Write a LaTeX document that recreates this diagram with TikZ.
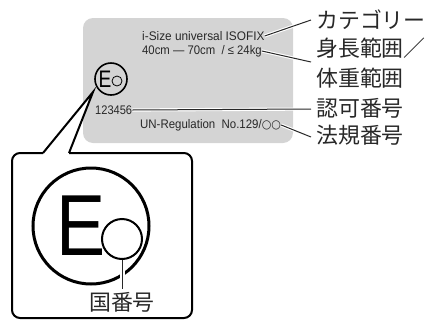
\documentclass[tikz,border=0pt]{standalone}
\usepackage{fontspec}
\setmainfont{Liberation Sans}
\newfontfamily\cjk{Noto Sans CJK JP}
\newfontfamily\dvs{DejaVu Sans}
\definecolor{labelgray}{RGB}{212,212,212}
\definecolor{ink}{RGB}{40,40,40}
\tikzset{
  lat/.style={inner sep=0pt, text=ink, anchor=west, font=\fontsize{12.5}{12.5}\selectfont},
  jp/.style={inner sep=0pt, text=ink, anchor=west, align=left, font=\cjk\fontsize{22}{30}\selectfont},
  leader/.style={draw=ink, line width=1bp, preaction={draw=white, line width=3.2bp}},
  bold/.style={draw=black, line width=2bp},
}
\begin{document}
\begin{tikzpicture}[x=1bp,y=-1bp]
\useasboundingbox (0,0) rectangle (428,320);
% label plate
\fill[labelgray, rounded corners=10bp] (83,18) rectangle (293,143);
\node[lat, xscale=0.95] (cat) at (142,36) {i-Size universal ISOFIX};
\node[lat, xscale=0.91] (size) at (142,51) {40cm — 70cm \ / ≤ 24kg};
\node[lat, xscale=0.89] (num) at (95,110) {123456};
\node[lat, xscale=0.92] (reg) at (140,125) {UN-Regulation\ \ No.129/{\dvs\fontsize{12}{12}\selectfont ○○}};
% small E mark
\node[circle, draw=black, line width=1.6bp, minimum size=32bp, inner sep=0pt] (smark) at (111,79) {};
\node[inner sep=0pt, xscale=0.8, font=\fontsize{24}{24}\selectfont] (sE) at (105,79) {E};
\node[circle, draw=black, line width=0.8bp, minimum size=10bp, inner sep=0pt] (so) at (117,81) {};
% right labels
\node[jp] (jcat) at (316,20) {カテゴリー};
\node[jp] (jsize) at (316,63) {身長範囲／\\体重範囲};
\node[jp] (jnum) at (316,108) {認可番号};
\node[jp] (jreg) at (316,135) {法規番号};
\coordinate (c1) at (311,20);
\coordinate (c2) at (311,62);
\coordinate (c3) at (311,109);
\coordinate (c4) at (311,137);
\draw[leader] (cat.east) -- (c1);
\draw[leader] (size.east) -- (c2);
\draw[leader] (num.east) -- (c3);
\draw[leader] (reg.east) -- (c4);
% callout box
\coordinate (pl) at (43,153);
\coordinate (pr) at (69,153);
\coordinate (tip) at (93,92);
\fill[white] (pl) -- (tip) -- (pr) -- cycle;
\draw[bold, rounded corners=8bp] (pr) -- (192,153) -- (192,318) -- (12,318) -- (12,153) -- (pl);
\draw[bold, line join=miter] (pl) -- (tip) -- (pr);
% big E mark
\node[circle, draw=black, line width=3bp, minimum size=116bp, inner sep=0pt] (bmark) at (91,226) {};
\node[inner sep=0pt, xscale=0.85, font=\fontsize{87}{87}\selectfont] (bE) at (81,226) {E};
\node[circle, draw=black, line width=2bp, minimum size=40bp, inner sep=0pt] (bo) at (122,239) {};
\node[inner sep=0pt, text=ink, font=\cjk\fontsize{22}{22}\selectfont] (country) at (122,302) {国番号};
\coordinate (cc) at (122,289);
\draw[draw=ink, line width=1bp, preaction={draw=white, line width=5bp}] (bo.south) -- (cc);
\end{tikzpicture}
\end{document}
